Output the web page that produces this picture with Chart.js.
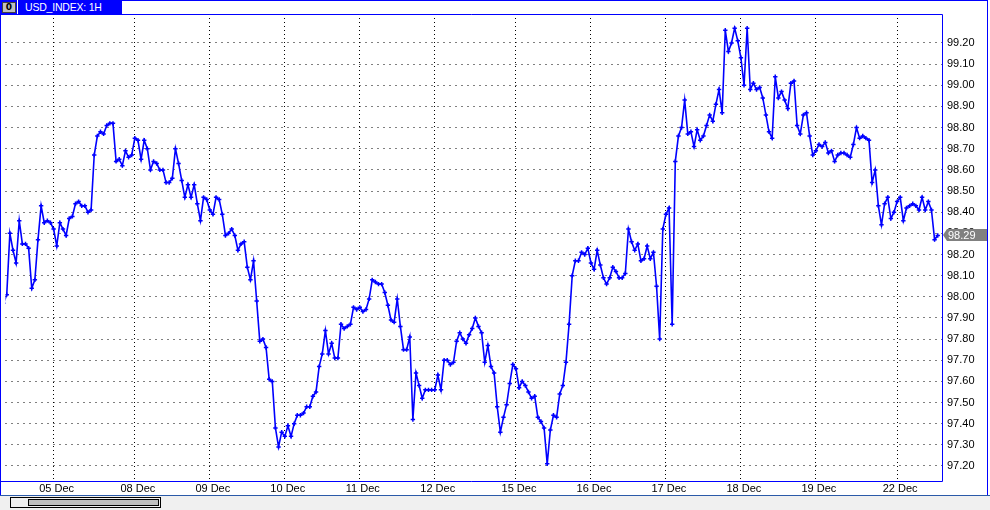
<!DOCTYPE html>
<html>
<head>
<meta charset="utf-8">
<title>USD_INDEX: 1H</title>
<script src="https://cdn.jsdelivr.net/npm/chart.js@4.4.1/dist/chart.umd.min.js"></script>
<style>
  body { margin: 0; background: #fff; }
  #wrap { position: relative; width: 990px; height: 510px; overflow: hidden; font-family: 'Liberation Sans', Arial, sans-serif; }
  #chart { position: absolute; left: 0; top: 0; }
  #tab { position: absolute; left: 0; top: 0; width: 122px; height: 14px; background: #0000ff; }
  #tab .icon { position: absolute; left: 2px; top: 2px; width: 12px; height: 9px; background: #c0c0c0; border: 1px solid #404040; font: bold 9px 'DejaVu Sans', sans-serif; line-height: 9px; text-align: center; color: #000; }
  #tab .sep { position: absolute; left: 17px; top: 0; width: 1px; height: 14px; background: #fff; }
  #tab .title { position: absolute; left: 25px; top: 1px; color: #fff; font-size: 10.5px; line-height: 12px; letter-spacing: -0.2px; }
  #topline { position: absolute; left: 122px; top: 0; width: 866px; height: 1px; background: #0000ff; }
  #rightline { position: absolute; left: 987px; top: 0; width: 1px; height: 496px; background: #0000ff; }
  #leftline { position: absolute; left: 0; top: 14px; width: 1px; height: 482px; background: #0000ff; }
  #bottom { position: absolute; left: 0; top: 495px; width: 990px; height: 15px; background: #f0f0f0; border-top: 1px solid #2a5aa8; }
  #scroll { position: absolute; left: 10px; top: 1px; width: 149px; height: 9px; border: 1px solid #000; background: #f0f0f0; }
  #thumb { position: absolute; left: 17px; top: 1px; width: 129px; height: 5px; border: 1px solid #000; background: #c0c0c0; }
</style>
</head>
<body>
<div id="wrap">
  <canvas id="chart" width="990" height="510"></canvas>
  <div id="topline"></div>
  <div id="rightline"></div>
  <div id="leftline"></div>
  <div id="tab"><div class="icon">0</div><div class="sep"></div><div class="title">USD_INDEX: 1H</div></div>
  <div id="bottom"><div id="scroll"><div id="thumb"></div></div></div>
</div>
<script>
// hourly closes (one per bar)
const values = [
  97.97, 98.01, 98.30, 98.22, 98.16, 98.36, 98.25, 98.25, 98.23, 98.04,
  98.08, 98.27, 98.43, 98.35, 98.36, 98.35, 98.32, 98.24, 98.35, 98.32,
  98.29, 98.37, 98.38, 98.44, 98.45, 98.43, 98.43, 98.40, 98.41, 98.67,
  98.76, 98.78, 98.77, 98.81, 98.82, 98.82, 98.64, 98.65, 98.62, 98.69,
  98.66, 98.67, 98.75, 98.74, 98.65, 98.74, 98.70, 98.60, 98.64, 98.63,
  98.60, 98.60, 98.54, 98.54, 98.56, 98.70, 98.63, 98.55, 98.47, 98.53,
  98.47, 98.53, 98.44, 98.36, 98.47, 98.46, 98.41, 98.39, 98.47, 98.46,
  98.39, 98.29, 98.30, 98.32, 98.29, 98.22, 98.25, 98.26, 98.14, 98.08,
  98.17, 97.98, 97.79, 97.80, 97.76, 97.61, 97.60, 97.38, 97.29, 97.36,
  97.34, 97.39, 97.34, 97.40, 97.44, 97.44, 97.45, 97.48, 97.48, 97.53,
  97.55, 97.67, 97.73, 97.84, 97.73, 97.78, 97.71, 97.71, 97.87, 97.85,
  97.86, 97.87, 97.95, 97.94, 97.95, 97.93, 97.94, 97.99, 98.08, 98.07,
  98.06, 98.06, 98.02, 97.96, 97.89, 97.88, 97.99, 97.86, 97.75, 97.75,
  97.81, 97.42, 97.64, 97.58, 97.52, 97.56, 97.56, 97.56, 97.56, 97.63,
  97.56, 97.70, 97.70, 97.68, 97.69, 97.79, 97.83, 97.80, 97.78, 97.82,
  97.85, 97.90, 97.86, 97.83, 97.69, 97.77, 97.67, 97.64, 97.48, 97.36,
  97.43, 97.49, 97.59, 97.68, 97.66, 97.57, 97.60, 97.58, 97.55, 97.52,
  97.53, 97.43, 97.41, 97.38, 97.21, 97.37, 97.44, 97.43, 97.54, 97.58,
  97.69, 97.87, 98.10, 98.17, 98.17, 98.21, 98.20, 98.23, 98.16, 98.13,
  98.22, 98.15, 98.09, 98.06, 98.09, 98.14, 98.12, 98.09, 98.09, 98.11,
  98.32, 98.26, 98.22, 98.25, 98.17, 98.18, 98.24, 98.18, 98.21, 98.05,
  97.80, 98.32, 98.39, 98.42, 97.87, 98.64, 98.76, 98.80, 98.93, 98.77,
  98.78, 98.71, 98.79, 98.74, 98.76, 98.81, 98.86, 98.83, 98.91, 98.98,
  98.87, 99.26, 99.16, 99.20, 99.27, 99.21, 99.13, 99.00, 99.27, 98.98,
  99.01, 98.98, 98.99, 98.94, 98.86, 98.78, 98.75, 99.04, 98.94, 98.97,
  98.93, 98.89, 99.01, 99.02, 98.81, 98.77, 98.86, 98.87, 98.76, 98.67,
  98.69, 98.72, 98.71, 98.73, 98.68, 98.69, 98.64, 98.67, 98.68, 98.68,
  98.67, 98.66, 98.72, 98.80, 98.75, 98.76, 98.75, 98.74, 98.54, 98.60,
  98.43, 98.34, 98.44, 98.47, 98.37, 98.40, 98.45, 98.47, 98.36, 98.42,
  98.43, 98.44, 98.43, 98.41, 98.47, 98.41, 98.45, 98.41, 98.27, 98.29
];

// first bar of each trading day
const dayLabels = ['05 Dec', '08 Dec', '09 Dec', '10 Dec', '11 Dec', '12 Dec',
                   '15 Dec', '16 Dec', '17 Dec', '18 Dec', '19 Dec', '22 Dec'];
const dayStarts = [16, 42, 66, 90, 114, 138, 164, 188, 212, 236, 260, 286];

const yTicks = [97.2, 97.3, 97.4, 97.5, 97.6, 97.7, 97.8, 97.9, 98.0, 98.1,
                98.2, 98.3, 98.4, 98.5, 98.6, 98.7, 98.8, 98.9, 99.0, 99.1, 99.2];

const BLUE = '#0000ff';

// plot frame + last price box
const framePlugin = {
  id: 'frame',
  afterDraw(chart) {
    const { ctx, chartArea: a } = chart;
    ctx.save();
    ctx.strokeStyle = BLUE;
    ctx.lineWidth = 1;
    ctx.beginPath();
    ctx.moveTo(0, a.top + 0.5);
    ctx.lineTo(a.right + 0.5, a.top + 0.5);
    ctx.lineTo(a.right + 0.5, a.bottom + 0.5);
    ctx.lineTo(0, a.bottom + 0.5);
    ctx.stroke();

    const last = values[values.length - 1];
    const y = Math.round(chart.scales.y.getPixelForValue(last));
    ctx.fillStyle = '#808080';
    ctx.beginPath();
    ctx.moveTo(a.right + 1, y);
    ctx.lineTo(a.right + 5, y - 6);
    ctx.lineTo(987, y - 6);
    ctx.lineTo(987, y + 6);
    ctx.lineTo(a.right + 5, y + 6);
    ctx.closePath();
    ctx.fill();
    ctx.fillStyle = '#fff';
    ctx.font = '11px "Liberation Sans", Arial, sans-serif';
    ctx.textBaseline = 'middle';
    ctx.fillText(last.toFixed(2), a.right + 6, y + 0.5);
    ctx.restore();
  }
};

const ctx = document.getElementById('chart').getContext('2d');
const chart = new Chart(ctx, {
  type: 'line',
  data: {
    datasets: [{
      label: 'USD_INDEX',
      data: values.map((v, i) => ({ x: i, y: v })),
      borderColor: BLUE,
      borderWidth: 1.6,
      tension: 0,
      pointStyle: 'cross',
      pointRadius: 2.2,
      pointBorderColor: BLUE,
      pointBorderWidth: 1.5,
      pointBackgroundColor: BLUE
    }]
  },
  options: {
    responsive: false,
    animation: false,
    layout: { padding: { left: 2, top: 14, right: 0, bottom: 0 } },
    plugins: {
      legend: { display: false },
      tooltip: { enabled: false }
    },
    scales: {
      x: {
        type: 'linear',
        position: 'bottom',
        min: 0.6,
        max: 300.37,
        afterBuildTicks: (s) => { s.ticks = dayStarts.map(v => ({ value: v })); },
        afterFit: (s) => { s.height = 29; },
        grid: { color: '#000', lineWidth: 1, drawTicks: false },
        border: { display: false, dash: [1, 3] },
        ticks: {
          color: '#000',
          font: { family: '"Liberation Sans", Arial, sans-serif', size: 11 },
          padding: 1,
          labelOffset: 3,
          maxRotation: 0,
          autoSkip: false,
          callback: (v) => dayLabels[dayStarts.indexOf(v)]
        }
      },
      y: {
        type: 'linear',
        position: 'right',
        min: 97.129,
        max: 99.337,
        afterBuildTicks: (s) => { s.ticks = yTicks.map(v => ({ value: v })); },
        afterFit: (s) => { s.width = 48; },
        grid: { color: '#000', lineWidth: 1, drawTicks: false },
        border: { display: false, dash: [1, 5] },
        ticks: {
          color: '#000',
          font: { family: '"Liberation Sans", Arial, sans-serif', size: 11 },
          padding: 5,
          callback: (v) => v.toFixed(2)
        }
      }
    }
  },
  plugins: [framePlugin]
});
</script>
</body>
</html>
